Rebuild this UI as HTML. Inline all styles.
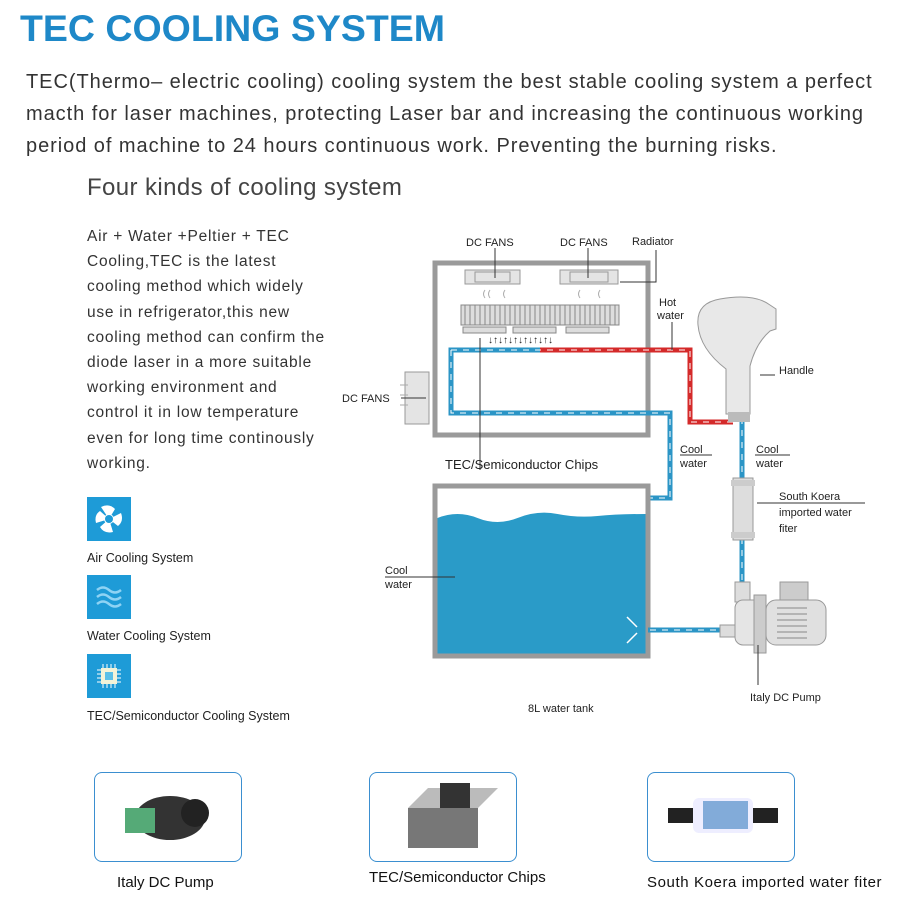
<!DOCTYPE html>
<html><head><meta charset="utf-8"><style>
body{margin:0;width:917px;height:918px;background:#fff;position:relative;overflow:hidden;font-family:"Liberation Sans",sans-serif;color:#333}
.a{position:absolute;white-space:nowrap}
.lt{font-size:15.5px;line-height:25.2px;color:#333;letter-spacing:0.75px}
.ic{position:absolute;left:87px;width:44px;height:44px;background:#1e9bd7}
.box{position:absolute;top:772px;width:146px;height:88px;border:1.5px solid #3b8fd0;border-radius:8px;background:#fff;overflow:hidden}
</style></head><body>
<div class="a" style="left:20px;top:7px;font-size:37.5px;font-weight:bold;color:#1e88c8;letter-spacing:0px">TEC COOLING SYSTEM</div>
<div class="a" style="left:26px;top:66px;font-size:20px;line-height:32px;color:#333;letter-spacing:0.95px">TEC(Thermo– electric cooling) cooling system the best stable cooling system a perfect<br>macth for laser machines, protecting Laser bar and increasing the continuous working<br>period of machine to 24 hours continuous work. Preventing the burning risks.</div>
<div class="a" style="left:87px;top:174px;font-size:24px;color:#444;letter-spacing:0.4px">Four kinds of cooling system</div>
<div class="a lt" style="left:87px;top:224px">Air + Water +Peltier + TEC<br>Cooling,TEC is the latest<br>cooling method which widely<br>use in refrigerator,this new<br>cooling method can confirm the<br>diode laser in a more suitable<br>working environment and<br>control it in low temperature<br>even for long time continously<br>working.</div>
<div class="ic" style="top:497px"><svg width="44" height="44"><g fill="#fff"><circle cx="22" cy="22" r="5"/><path d="M22 22 L14 10 Q22 6 28 12Z"/><path d="M22 22 L34 16 Q37 24 31 29Z"/><path d="M22 22 L26 35 Q17 37 13 30Z"/><path d="M22 22 L9 26 Q7 18 13 14Z"/></g><circle cx="22" cy="22" r="4" fill="#1e9bd7"/></svg></div>
<div class="a" style="left:87px;top:551px;font-size:12.5px;color:#222">Air Cooling System</div>
<div class="ic" style="top:575px"><svg width="44" height="44" fill="none" stroke="#8fd3f4" stroke-width="2.5"><path d="M10 15 q6-5 12 0 t12 0"/><path d="M10 22 q6-5 12 0 t12 0"/><path d="M10 29 q6-5 12 0 t12 0"/></svg></div>
<div class="a" style="left:87px;top:629px;font-size:12.5px;color:#222">Water Cooling System</div>
<div class="ic" style="top:654px"><svg width="44" height="44"><g stroke="#fff" stroke-width="1"><path d="M16 10v24M20 10v24M24 10v24M28 10v24M10 16h24M10 20h24M10 24h24M10 28h24"/></g><rect x="14" y="14" width="16" height="16" fill="#f3f3d8"/><rect x="18" y="18" width="8" height="8" fill="#5ac0e8"/></svg></div>
<div class="a" style="left:87px;top:709px;font-size:12.5px;color:#222">TEC/Semiconductor Cooling System</div>

<svg class="a" style="left:0;top:0" width="917" height="918" font-family="Liberation Sans, sans-serif" font-size="11" fill="#222">
<rect x="435" y="263" width="213" height="172" fill="#fff" stroke="#9a9a9a" stroke-width="5"/>
<g fill="#e4e4e4" stroke="#999"><rect x="465" y="270" width="55" height="14"/><rect x="475" y="272" width="35" height="10"/><rect x="560" y="270" width="58" height="14"/><rect x="570" y="272" width="38" height="10"/><rect x="405" y="372" width="24" height="52"/></g>
<g fill="none" stroke="#aaa"><path d="M485 290q-3 4 0 8M490 290q-3 4 0 8M505 290q-3 4 0 8M580 290q-3 4 0 8M600 290q-3 4 0 8M400 385h8M400 395h8M400 405h8"/></g>
<rect x="461" y="305" width="158" height="20" fill="#ddd" stroke="#888"/>
<path d="M465 305v20M470 305v20M475 305v20M480 305v20M485 305v20M490 305v20M495 305v20M500 305v20M505 305v20M510 305v20M515 305v20M520 305v20M525 305v20M530 305v20M535 305v20M540 305v20M545 305v20M550 305v20M555 305v20M560 305v20M565 305v20M570 305v20M575 305v20M580 305v20M585 305v20M590 305v20M595 305v20M600 305v20M605 305v20M610 305v20M615 305v20" stroke="#888"/>
<g fill="#ddd" stroke="#888"><rect x="463" y="327" width="43" height="6"/><rect x="513" y="327" width="43" height="6"/><rect x="566" y="327" width="43" height="6"/></g>
<text x="488" y="343" font-size="10">↓↑↓↑↓↑↓↑↓↑↓↑↓</text>
<path d="M540 350H451V413H670V498H650" fill="none" stroke="#2b95c6" stroke-width="5"/>
<path d="M540 350H690V422H733" fill="none" stroke="#d42a2a" stroke-width="5"/>
<path d="M742 418V585" fill="none" stroke="#2b95c6" stroke-width="5"/>
<path d="M451 350H690V422H733M451 350V413H670V498H650M742 418V585M650 630H720" fill="none" stroke="#fff" stroke-width="1" stroke-dasharray="6 6"/>
<rect x="435" y="486" width="213" height="170" fill="#fff" stroke="#9a9a9a" stroke-width="5"/>
<path d="M437.5 518q20-8 40 0t40 0t40-4t40 2t48-2V653.5H437.5Z" fill="#2a9bc8"/>
<path d="M648 630H720" stroke="#2b95c6" stroke-width="5"/>
<path d="M650 630H720" stroke="#fff" stroke-dasharray="6 6"/>
<path d="M627 617l10 10M627 643l10-10" stroke="#fff" stroke-width="1.5"/>
<path d="M698 325q-2-22 22-26q34-6 50 6l6 4v20l-6 2q-14 12-20 35v48h-24v-45q-26-20-28-44Z" fill="#e8e8e8" stroke="#999"/>
<rect x="728" y="412" width="22" height="10" fill="#bbb"/>
<rect x="733" y="478" width="20" height="62" fill="#ddd" stroke="#999"/>
<rect x="731" y="480" width="24" height="6" fill="#ccc"/><rect x="731" y="532" width="24" height="6" fill="#ccc"/>
<rect x="735" y="582" width="15" height="20" fill="#ddd" stroke="#999"/>
<rect x="720" y="625" width="18" height="12" fill="#ddd" stroke="#999"/>
<rect x="735" y="600" width="30" height="45" rx="8" fill="#e5e5e5" stroke="#999"/>
<rect x="754" y="595" width="12" height="58" fill="#ccc" stroke="#999"/>
<rect x="766" y="600" width="60" height="45" rx="10" fill="#e0e0e0" stroke="#999"/>
<rect x="780" y="582" width="28" height="18" fill="#ccc" stroke="#999"/>
<path d="M777 608h30M777 614h30M777 620h30M777 626h30M777 632h30M777 638h30" stroke="#888"/>
<g stroke="#333" fill="none"><path d="M495 248v30M588 248v30M656 250v32H620M672 322v28M401 398h25M480 338v132M760 375h15M680 455h32M755 455h35M757 503h108M385 577h70M758 645v40"/></g>
<text x="466" y="246">DC FANS</text><text x="560" y="246">DC FANS</text><text x="632" y="245">Radiator</text>
<text x="659" y="306">Hot</text><text x="657" y="319">water</text>
<text x="779" y="374">Handle</text>
<text x="342" y="402">DC FANS</text>
<text x="445" y="469" font-size="13">TEC/Semiconductor Chips</text>
<text x="680" y="453">Cool</text><text x="680" y="467">water</text>
<text x="756" y="453">Cool</text><text x="756" y="467">water</text>
<text x="779" y="500">South Koera</text><text x="779" y="516">imported water</text><text x="779" y="532">fiter</text>
<text x="385" y="574">Cool</text><text x="385" y="588">water</text>
<text x="528" y="712">8L water tank</text>
<text x="750" y="701">Italy DC Pump</text>
</svg>

<div class="box" style="left:94px"><svg width="146" height="88"><ellipse cx="75" cy="45" rx="35" ry="22" fill="#333"/><rect x="30" y="35" width="30" height="25" fill="#5a7"/><circle cx="100" cy="40" r="14" fill="#222"/></svg></div>
<div class="box" style="left:369px"><svg width="146" height="88"><rect x="38" y="35" width="70" height="40" fill="#777"/><path d="M38 35l20-20h70l-20 20Z" fill="#bbb"/><rect x="70" y="10" width="30" height="25" fill="#333"/></svg></div>
<div class="box" style="left:647px"><svg width="146" height="88"><rect x="45" y="25" width="60" height="35" rx="6" fill="#eef"/><rect x="55" y="28" width="45" height="28" fill="#3a7fc0" opacity=".6"/><rect x="20" y="35" width="25" height="15" fill="#222"/><rect x="105" y="35" width="25" height="15" fill="#222"/></svg></div>
<div class="a" style="left:117px;top:874px;font-size:15px;color:#111">Italy DC Pump</div>
<div class="a" style="left:369px;top:869px;font-size:15px;color:#111">TEC/Semiconductor Chips</div>
<div class="a" style="left:647px;top:874px;font-size:15px;color:#111;letter-spacing:0.6px">South Koera imported water fiter</div>
</body></html>
